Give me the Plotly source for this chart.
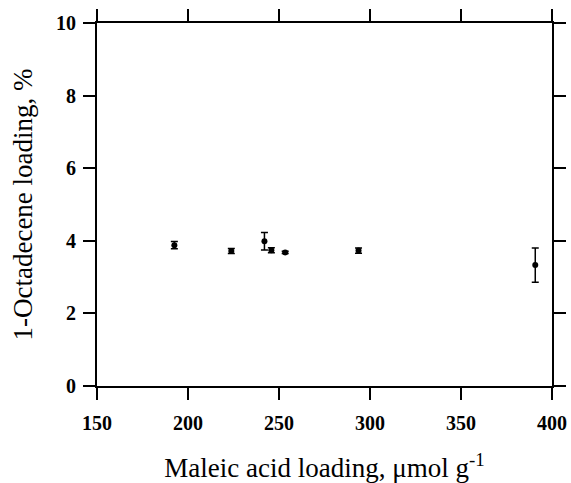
import plotly.graph_objects as go

maleic_acid = [192.5, 223.8, 242.0, 245.8, 253.4, 293.7, 390.8]
octadecene = [3.88, 3.72, 3.99, 3.74, 3.68, 3.73, 3.33]
err = [0.10, 0.07, 0.24, 0.07, 0.03, 0.07, 0.47]

x_ticks = [150, 200, 250, 300, 350, 400]
y_ticks = [0, 2, 4, 6, 8, 10]

FONT = "Liberation Serif"

fig = go.Figure()
fig.add_trace(go.Scatter(
    x=maleic_acid, y=octadecene, mode="markers",
    marker=dict(color="black", size=6),
    error_y=dict(type="data", array=err, visible=True, color="black", thickness=1.5, width=3.5),
    showlegend=False,
))

axis_common = dict(
    showline=True, linecolor="black", linewidth=2, mirror="ticks",
    ticks="outside", ticklen=12, tickwidth=1.5, tickcolor="black",
    showgrid=False, zeroline=False, automargin=False,
    tickfont=dict(family=FONT, size=20, color="black", weight="bold"),
)

fig.update_layout(
    width=571, height=483,
    margin=dict(l=97, r=19, t=23, b=97),
    paper_bgcolor="white", plot_bgcolor="white",
    font=dict(family=FONT, color="black"),
    xaxis=dict(range=[150, 400], tickvals=x_ticks, ticklabelstandoff=6,
               title=dict(text="Maleic acid loading, \u03bcmol g<sup>-1</sup>",
                          font=dict(family=FONT, size=27, color="black"), standoff=27),
               **axis_common),
    yaxis=dict(range=[0, 10], tickvals=y_ticks, ticklabelstandoff=3,
               title=dict(text="1-Octadecene loading, %",
                          font=dict(family=FONT, size=27, color="black"), standoff=16),
               **axis_common),
)

fig.write_html("out.html")
